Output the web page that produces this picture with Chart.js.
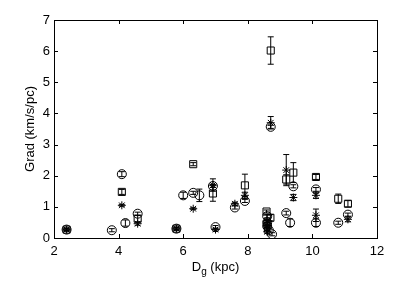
<!DOCTYPE html>
<html><head><meta charset="utf-8">
<script src="https://cdn.jsdelivr.net/npm/chart.js@4"></script>
<style>html,body{margin:0;padding:0;background:#fff}#wrap{width:415px;height:282px}</style>
</head><body><div id="wrap"><canvas id="c" width="415" height="282"></canvas></div>
<script>
// Circles
const circX = [2.39,3.79,4.10,4.21,4.59,5.79,6.00,6.31,6.50,6.92,7.00,7.60,7.91,8.60,8.60,8.60,8.65,8.75,8.71,9.19,9.31,9.41,10.11,10.11,10.80,11.10];
const circY = [0.27,0.25,2.05,0.48,0.78,0.30,1.37,1.45,1.37,1.67,0.35,0.98,1.19,0.70,0.50,0.38,0.25,0.12,3.57,0.80,0.49,1.66,1.56,0.49,0.49,0.75];
const circE = [0.05,0.05,0.08,0.10,0.05,0.05,0.10,0.05,0.20,0.05,0.05,0.05,0.05,0.05,0.05,0.05,0.05,0.05,0.05,0.06,0.12,0.05,0.06,0.12,0.05,0.05];
// Squares
const sqX = [2.39,4.10,4.59,5.79,6.31,6.92,7.91,8.58,8.70,8.60,8.71,9.19,9.41,10.11,10.80,11.10];
const sqY = [0.27,1.48,0.62,0.30,2.37,1.43,1.69,0.85,0.65,0.45,6.02,1.88,2.10,1.96,1.26,1.10];
const sqE = [0.05,0.08,0.10,0.05,0.05,0.25,0.36,0.05,0.10,0.05,0.44,0.15,0.32,0.08,0.15,0.10];
// Asterisks
const astX = [2.39,4.10,4.59,5.79,6.31,6.92,7.00,7.60,7.91,8.60,8.60,8.60,8.60,8.71,9.19,9.41,10.11,10.11,11.10];
const astY = [0.27,1.05,0.46,0.30,0.94,1.70,0.27,1.10,1.37,0.55,0.40,0.30,0.20,3.70,2.18,1.30,1.37,0.73,0.60];
const astE = [0.03,0.03,0.05,0.03,0.03,0.20,0.05,0.05,0.10,0.05,0.05,0.05,0.05,0.20,0.50,0.10,0.10,0.20,0.08];
// Axis ticks
const xTicks = [2,4,6,8,10,12];
const yTicks = [0,1,2,3,4,5,6,7];

function pts(xs, ys){ return xs.map((x,i)=>({x:x, y:ys[i]})); }
const FONT = '"Liberation Sans", Arial, Helvetica, sans-serif';

const errPlugin = {
  id:'errbars',
  afterDatasetsDraw(chart){
    const ctx = chart.ctx, ys = chart.scales.y;
    chart.data.datasets.forEach((ds, di)=>{
      const meta = chart.getDatasetMeta(di);
      ds.err.forEach((e,i)=>{
        const el = meta.data[i]; if(!el) return;
        const v = ds.data[i].y;
        const y1 = ys.getPixelForValue(v+e), y2 = ys.getPixelForValue(v-e);
        ctx.save(); ctx.strokeStyle='#000'; ctx.lineWidth=1;
        ctx.beginPath();
        ctx.moveTo(el.x, y1); ctx.lineTo(el.x, y2);
        ctx.moveTo(el.x-3, y1); ctx.lineTo(el.x+3, y1);
        ctx.moveTo(el.x-3, y2); ctx.lineTo(el.x+3, y2);
        ctx.stroke(); ctx.restore();
      });
    });
  }
};
const framePlugin = {
  id:'frame',
  afterDraw(chart){
    const ctx = chart.ctx, a = chart.chartArea, xs = chart.scales.x, ys = chart.scales.y;
    ctx.save(); ctx.strokeStyle='#000'; ctx.lineWidth=1;
    ctx.strokeRect(Math.round(a.left)+0.5, Math.round(a.top)+0.5, Math.round(a.right-a.left), Math.round(a.bottom-a.top));
    ctx.beginPath();
    xTicks.forEach(t=>{ const px = Math.round(xs.getPixelForValue(t))+0.5;
      ctx.moveTo(px, a.bottom); ctx.lineTo(px, a.bottom-4);
      ctx.moveTo(px, a.top); ctx.lineTo(px, a.top+4); });
    yTicks.forEach(t=>{ const py = Math.round(ys.getPixelForValue(t))+0.5;
      ctx.moveTo(a.left, py); ctx.lineTo(a.left+4, py);
      ctx.moveTo(a.right, py); ctx.lineTo(a.right-4, py); });
    ctx.stroke();
    // axis titles
    ctx.fillStyle='#000'; ctx.textBaseline='middle';
    ctx.font = '13px '+FONT;
    const cx = (a.left+a.right)/2;
    const w1 = ctx.measureText('D').width;
    ctx.font = '10px '+FONT; const wg = ctx.measureText('g').width;
    ctx.font = '13px '+FONT; const w2 = ctx.measureText(' (kpc)').width;
    let x0 = cx - (w1+wg+w2)/2, ty = 267;
    ctx.textAlign='left';
    ctx.fillText('D', x0, ty);
    ctx.font = '10px '+FONT; ctx.fillText('g', x0+w1, ty+5);
    ctx.font = '13px '+FONT; ctx.fillText(' (kpc)', x0+w1+wg, ty);
    ctx.translate(30, (a.top+a.bottom)/2);
    ctx.rotate(-Math.PI/2); ctx.textAlign='center';
    ctx.fillText('Grad (km/s/pc)', 0, 0);
    ctx.restore();
  }
};

new Chart(document.getElementById('c'), {
  type:'scatter',
  data:{ datasets:[
    {label:'circles', data:pts(circX,circY), err:circE, pointStyle:'circle', radius:4.5, borderColor:'#000', backgroundColor:'rgba(0,0,0,0)', borderWidth:1},
    {label:'squares', data:pts(sqX,sqY), err:sqE, pointStyle:'rect', radius:5, borderColor:'#000', backgroundColor:'rgba(0,0,0,0)', borderWidth:1},
    {label:'asterisks', data:pts(astX,astY), err:astE, pointStyle:'star', radius:4, borderColor:'#000', backgroundColor:'rgba(0,0,0,0)', borderWidth:1}
  ]},
  options:{
    responsive:false, animation:false, events:[],
    layout:{padding:{top:20, right:38, left:0, bottom:0}},
    plugins:{legend:{display:false}, tooltip:{enabled:false}},
    elements:{point:{hoverRadius:5}},
    scales:{
      x:{type:'linear', min:2, max:12, afterFit(s){s.height=44;},
        afterBuildTicks(s){ s.ticks = xTicks.map(v=>({value:v})); },
        grid:{display:false, drawTicks:false}, border:{display:false},
        ticks:{padding:6, color:'#000', font:{family:FONT, size:13}, maxRotation:0}},
      y:{type:'linear', min:0, max:7, afterFit(s){s.width=54;},
        afterBuildTicks(s){ s.ticks = yTicks.map(v=>({value:v})); },
        grid:{display:false, drawTicks:false}, border:{display:false},
        ticks:{padding:4, color:'#000', font:{family:FONT, size:13}}}
    }
  },
  plugins:[errPlugin, framePlugin]
});
</script></body></html>
